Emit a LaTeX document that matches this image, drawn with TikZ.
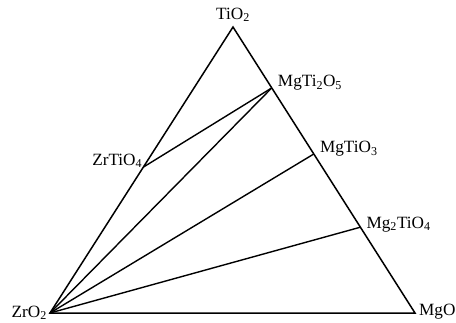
\documentclass[tikz,border=0pt]{standalone}
\usepackage{fontspec}
\setmainfont{Liberation Serif}
\usetikzlibrary{positioning,calc}
\tikzset{
	phaseEdge/.style={line width=1.5pt, line join=miter},
	tieLine/.style={line width=1.4pt},
	phaseLabel/.style={inner sep=0pt, font=\fontsize{17.2}{19}\selectfont}
}
\begin{document}
\begin{tikzpicture}[x=1pt,y=-1pt]
	\useasboundingbox (0,0) rectangle (456,322);

	% Corners of the triangle
	\coordinate (tio2) at (233,27);
	\coordinate (zro2) at (50,313);
	\coordinate (mgo) at (415,313);

	% Compounds on the edges
	\coordinate (zrtio4) at ($(tio2)!0.49!(zro2)$);
	\coordinate (mgti2o5) at ($(tio2)!0.213!(mgo)$);
	\coordinate (mgtio3) at ($(tio2)!0.444!(mgo)$);
	\coordinate (mg2tio4) at ($(tio2)!0.70!(mgo)$);

	\draw[phaseEdge] (tio2) -- (zro2) -- (mgo) -- cycle;

	% Tie lines
	\draw[tieLine] (zrtio4) -- (mgti2o5);
	\draw[tieLine] (zro2) -- (mgti2o5);
	\draw[tieLine] (zro2) -- (mgtio3);
	\draw[tieLine] (zro2) -- (mg2tio4);

	% Labels
	\node[phaseLabel, above=5pt of tio2] (tio2lbl) {TiO\textsubscript{2}};
	\node[phaseLabel, anchor=east, xshift=-3pt] (zro2lbl) at (zro2) {ZrO\textsubscript{2}};
	\node[phaseLabel, anchor=west, xshift=4pt, yshift=1pt] (mgolbl) at (mgo) {MgO};
	\node[phaseLabel, anchor=base east, xshift=-1pt, yshift=2pt] (zrtio4lbl) at (zrtio4) {ZrTiO\textsubscript{4}};
	\node[phaseLabel, anchor=base west, xshift=6pt, yshift=1pt] (mgti2o5lbl) at (mgti2o5) {MgTi\textsubscript{2}O\textsubscript{5}};
	\node[phaseLabel, anchor=base west, xshift=6pt, yshift=1pt] (mgtio3lbl) at (mgtio3) {MgTiO\textsubscript{3}};
	\node[phaseLabel, anchor=base west, xshift=6pt, yshift=-1pt] (mg2tio4lbl) at (mg2tio4) {Mg\textsubscript{2}TiO\textsubscript{4}};

\end{tikzpicture}
\end{document}
